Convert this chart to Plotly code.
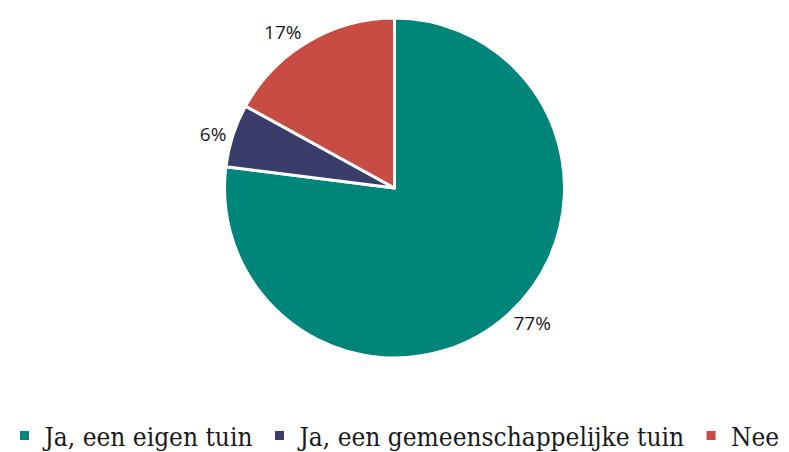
import plotly.graph_objects as go

labels = ["Ja, een eigen tuin", "Ja, een gemeenschappelijke tuin", "Nee"]
values = [77, 6, 17]
colors = ["#00857A", "#3A3C6A", "#C94C44"]

fig = go.Figure(go.Pie(
    labels=labels, values=values, sort=False, direction="clockwise", rotation=0,
    marker=dict(colors=colors, line=dict(color="white", width=3)),
    texttemplate="%{value}%", textposition="outside",
    textfont=dict(family="Open Sans", size=19, color="#1a1a1a"),
    hoverinfo="label+percent",
    domain=dict(x=[0.0, 1.0], y=[0.1095, 0.9552]),
))
fig.update_layout(
    width=789, height=452,
    margin=dict(l=0, r=0, t=0, b=50, autoexpand=False),
    paper_bgcolor="white",
    showlegend=True,
    legend=dict(orientation="h", x=0.5, xanchor="center", y=-0.025, yanchor="top",
                font=dict(family="DejaVu Serif Condensed", size=26, color="#1a1a1a"),
                itemwidth=30, tracegroupgap=0),
)
fig.write_html("out.html", post_script="document.body.style.margin='0';",
               config={"displayModeBar": False})
